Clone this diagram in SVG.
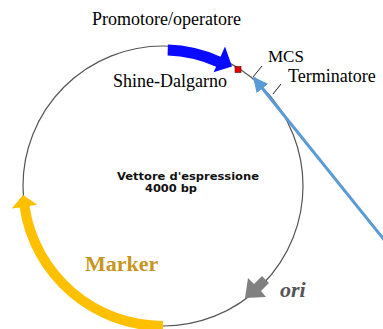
<svg xmlns="http://www.w3.org/2000/svg" width="383" height="329" viewBox="0 0 383 329">
<defs>
<style>
.serif{font-family:"Liberation Serif","Times New Roman",serif;font-size:18px;fill:#000}
.tick{stroke:#222;stroke-width:1;fill:none}
.mono{font-family:"DejaVu Sans",Verdana,sans-serif;font-weight:bold;font-size:10px;fill:#111}
</style>
<marker id="lbhead" viewBox="0 0 10 10" refX="9" refY="5" markerWidth="5" markerHeight="5" markerUnits="strokeWidth" orient="auto">
<path d="M0,0 L10,5 L0,10 Z" fill="#5b9bd5"/>
</marker>
</defs>
<rect width="383" height="329" fill="#fff"/>
<g id="plasmid">
<circle cx="163" cy="186" r="140" fill="none" stroke="#555" stroke-width="1.2"/>
<text class="mono" x="117" y="179.5" textLength="142" lengthAdjust="spacingAndGlyphs">Vettore d'espressione</text>
<text class="mono" x="145" y="191.5" textLength="52" lengthAdjust="spacingAndGlyphs">4000 bp</text>
</g>
<g id="promotore">
<path d="M167.9,44.6 A141.5,141.5 0 0 1 220.5,56.7 L225,46.5 L232,66.5 L213.5,72.3 L216.1,66.8 A130.5,130.5 0 0 0 167.6,55.6 Z" fill="#0a0aff"/>
<text class="serif" x="92" y="25">Promotore/operatore</text>
</g>
<g id="shine-dalgarno">
<rect x="235" y="66.5" width="6" height="6" fill="#e00000" stroke="#600" stroke-width="0.6"/>
<text class="serif" x="113" y="87">Shine-Dalgarno</text>
</g>
<g id="mcs">
<line class="tick" x1="253" y1="77" x2="262" y2="66"/>
<text class="serif" x="268" y="62" style="font-size:17px">MCS</text>
</g>
<g id="terminatore">
<line class="tick" x1="273" y1="94" x2="281" y2="84"/>
<text class="serif" x="288" y="82">Terminatore</text>
</g>
<g id="marker">
<path d="M163,331 A145,145 0 0 1 19.6,207.4 L11.7,208.6 L23,195 L37.4,204.8 L29.5,206 A135,135 0 0 0 163,321 Z" fill="#ffc000"/>
<text x="85" y="271" style="font-family:'Liberation Serif','Times New Roman',serif;font-weight:bold;font-size:22px;fill:#c8961e">Marker</text>
</g>
<g id="ori">
<polygon points="245,298 248,278 254,284 262,276 269,283 261,291 266,297" fill="#808080"/>
<text x="280" y="297" style="font-family:'Liberation Serif','Times New Roman',serif;font-weight:bold;font-style:italic;font-size:22px;fill:#555">ori</text>
</g>
<g id="connectors">
<line x1="386" y1="242" x2="254" y2="78" stroke="#5b9bd5" stroke-width="3" marker-end="url(#lbhead)"/>
</g>
</svg>
